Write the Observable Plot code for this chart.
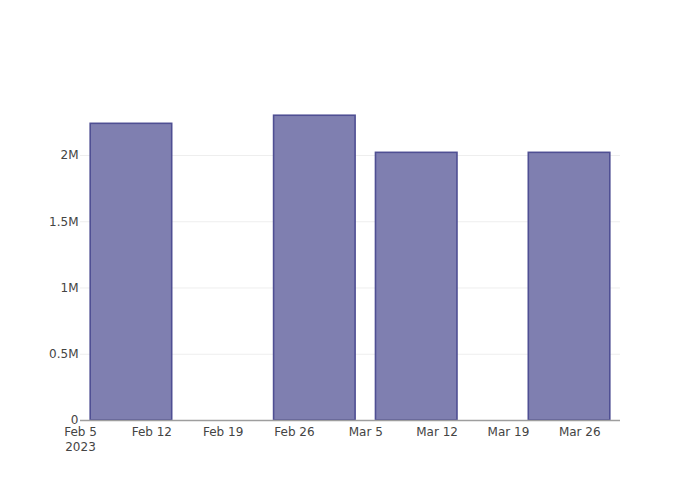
<!DOCTYPE html>
<html>
<head>
<meta charset="utf-8">
<script src="https://cdn.jsdelivr.net/npm/d3@7"></script>
<script src="https://cdn.jsdelivr.net/npm/@observablehq/plot@0.6"></script>
<style>
  html, body { margin: 0; padding: 0; background: #fff; }
  #chart { width: 700px; height: 500px; }
  svg { font-family: "DejaVu Sans", sans-serif; }
</style>
</head>
<body>
<div id="chart"></div>
<script>
// Data
const dates = ["2023-02-10", "2023-02-28", "2023-03-10", "2023-03-25"];
const values = [2239000, 2300000, 2020000, 2020000];
const yTicks = [0, 500000, 1000000, 1500000, 2000000];
const yTickLabels = ["0", "0.5M", "1M", "1.5M", "2M"];
const xTickDates = ["2023-02-05", "2023-02-12", "2023-02-19", "2023-02-26", "2023-03-05", "2023-03-12", "2023-03-19", "2023-03-26"];
const xTickLabels = ["Feb 5\n2023", "Feb 12", "Feb 19", "Feb 26", "Mar 5", "Mar 12", "Mar 19", "Mar 26"];

const DAY = 864e5;
const centers = dates.map(d => new Date(d + "T00:00:00Z"));
let minGap = Infinity;
for (let i = 1; i < centers.length; i++) minGap = Math.min(minGap, centers[i] - centers[i - 1]);
const half = minGap * 0.8 / 2;
const table = centers.map((c, i) => ({
  x1: new Date(+c - half),
  x2: new Date(+c + half),
  y: values[i]
}));
const xDomain = [new Date(+centers[0] - minGap / 2), new Date(+centers[centers.length - 1] + minGap / 2)];
const yMax = d3.max(values) * 1.05;
const xTicks = xTickDates.map(d => new Date(d + "T00:00:00Z"));

const chart = Plot.plot({
  width: 700,
  height: 500,
  marginLeft: 80,
  marginRight: 80,
  marginTop: 100,
  marginBottom: 80,
  style: { fontFamily: "'DejaVu Sans', sans-serif", fontSize: "12px", color: "#444", background: "#fff" },
  x: { type: "utc", domain: xDomain },
  y: { domain: [0, yMax] },
  marks: [
    Plot.ruleY(yTicks.slice(1), { stroke: "#eee", strokeWidth: 1 }),
    Plot.rectY(table, {
      x1: "x1", x2: "x2", y1: 0, y2: "y",
      fill: "#7f7fb0", stroke: "#4f4f93", strokeWidth: 1.6, inset: 0
    }),
    Plot.ruleY([0], { stroke: "#9e9e9e", strokeWidth: 1.5 }),
    Plot.axisY({
      ticks: yTicks,
      tickFormat: (d, i) => yTickLabels[i],
      tickSize: 0,
      tickPadding: 2,
      label: null,
      fill: "#444",
      fontSize: 12
    }),
    Plot.axisX({
      ticks: xTicks,
      tickFormat: (d, i) => xTickLabels[i],
      tickSize: 0,
      tickPadding: 4,
      label: null,
      fill: "#444",
      fontSize: 12,
      lineHeight: 1.3
    })
  ]
});
document.getElementById("chart").appendChild(chart);
</script>
</body>
</html>
